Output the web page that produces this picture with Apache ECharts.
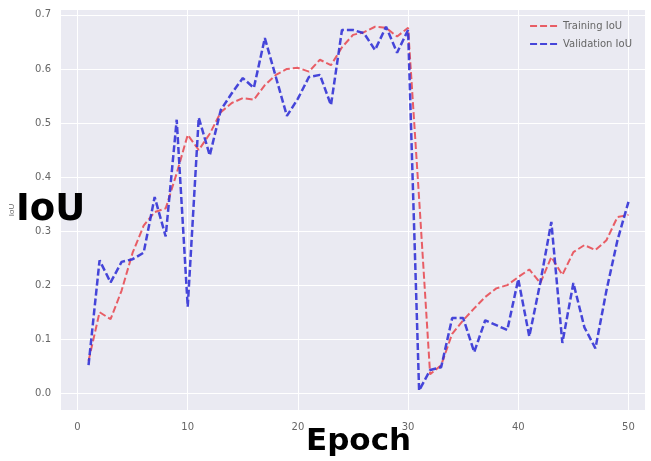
<!DOCTYPE html>
<html>
<head>
<meta charset="utf-8">
<script src="https://cdn.jsdelivr.net/npm/echarts@6/dist/echarts.min.js"></script>
<style>
  html, body { margin: 0; padding: 0; background: #ffffff; }
  #chart { width: 651px; height: 461px; }
</style>
</head>
<body>
<div id="chart"></div>
<script>
// Epoch numbers 1..50
const epochs = [
  1, 2, 3, 4, 5, 6, 7, 8, 9, 10,
  11, 12, 13, 14, 15, 16, 17, 18, 19, 20,
  21, 22, 23, 24, 25, 26, 27, 28, 29, 30,
  31, 32, 33, 34, 35, 36, 37, 38, 39, 40,
  41, 42, 43, 44, 45, 46, 47, 48, 49, 50
];

// Training IoU per epoch
const trainingIoU = [
  0.06, 0.15, 0.137, 0.19, 0.26, 0.31, 0.335, 0.342, 0.407, 0.478,
  0.45, 0.48, 0.52, 0.537, 0.546, 0.543, 0.57, 0.589, 0.60, 0.602,
  0.595, 0.617, 0.607, 0.64, 0.663, 0.668, 0.678, 0.676, 0.66, 0.676,
  0.36, 0.035, 0.052, 0.11, 0.135, 0.157, 0.178, 0.194, 0.20, 0.215,
  0.229, 0.204, 0.252, 0.219, 0.261, 0.274, 0.265, 0.283, 0.326, 0.33
];

// Validation IoU per epoch
const validationIoU = [
  0.052, 0.246, 0.205, 0.243, 0.248, 0.26, 0.363, 0.29, 0.506, 0.16,
  0.51, 0.44, 0.524, 0.555, 0.583, 0.565, 0.657, 0.585, 0.513, 0.545,
  0.585, 0.589, 0.533, 0.672, 0.672, 0.666, 0.635, 0.678, 0.63, 0.672,
  0.005, 0.043, 0.048, 0.139, 0.139, 0.076, 0.135, 0.126, 0.117, 0.211,
  0.105, 0.205, 0.317, 0.093, 0.204, 0.122, 0.083, 0.19, 0.283, 0.354
];

// Tick positions
const xTicks = [0, 10, 20, 30, 40, 50];
const yTicks = [0.0, 0.1, 0.2, 0.3, 0.4, 0.5, 0.6, 0.7];

const chart = echarts.init(document.getElementById('chart'), null, { renderer: 'canvas' });

const pair = (ys) => epochs.map((e, i) => [e, ys[i]]);

const tickText = { color: '#666666', fontSize: 10, fontFamily: 'DejaVu Sans' };

chart.setOption({
  animation: false,
  backgroundColor: '#ffffff',
  grid: {
    left: 58, top: 10, right: 6, bottom: 51,
    show: true, backgroundColor: '#eaeaf2', borderWidth: 0
  },
  legend: {
    orient: 'vertical',
    right: 14, top: 16,
    itemWidth: 28, itemHeight: 10, itemGap: 8,
    itemStyle: { opacity: 0 },
    textStyle: { color: '#666666', fontSize: 10, fontFamily: 'DejaVu Sans' },
    data: ['Training IoU', 'Validation IoU']
  },
  xAxis: {
    type: 'value',
    min: -1.5, max: 51.5,
    axisLine: { show: false },
    axisTick: { show: false, customValues: xTicks },
    axisLabel: { customValues: xTicks, margin: 12, ...tickText },
    splitLine: { show: true, lineStyle: { color: '#ffffff', width: 1 } }
  },
  yAxis: {
    type: 'value',
    min: -0.031, max: 0.709,
    name: 'IoU', nameLocation: 'middle', nameGap: 45, nameRotate: 90,
    nameTextStyle: { color: '#666666', fontSize: 8 },
    axisLine: { show: false },
    axisTick: { show: false, customValues: yTicks },
    axisLabel: { customValues: yTicks, margin: 10, formatter: (v) => v.toFixed(1), ...tickText },
    splitLine: { show: true, lineStyle: { color: '#ffffff', width: 1 } }
  },
  series: [
    {
      name: 'Training IoU',
      type: 'line',
      data: pair(trainingIoU),
      symbol: 'none',
      itemStyle: { color: '#e8444c' },
      lineStyle: { color: '#e8444c', width: 2, type: [7, 3], opacity: 0.85 },
      z: 3
    },
    {
      name: 'Validation IoU',
      type: 'line',
      data: pair(validationIoU),
      symbol: 'none',
      itemStyle: { color: '#3333d6' },
      lineStyle: { color: '#3333d6', width: 2.5, type: [7, 3], opacity: 0.9 },
      z: 4
    }
  ],
  graphic: [
    {
      type: 'text', left: 16, top: 192, z: 100,
      style: { text: 'IoU', fill: '#000000', font: 'bold 37px "DejaVu Sans"' }
    },
    {
      type: 'text', left: 306, top: 426, z: 100,
      style: { text: 'Epoch', fill: '#000000', font: 'bold 31px "DejaVu Sans"' }
    }
  ]
});
</script>
</body>
</html>
